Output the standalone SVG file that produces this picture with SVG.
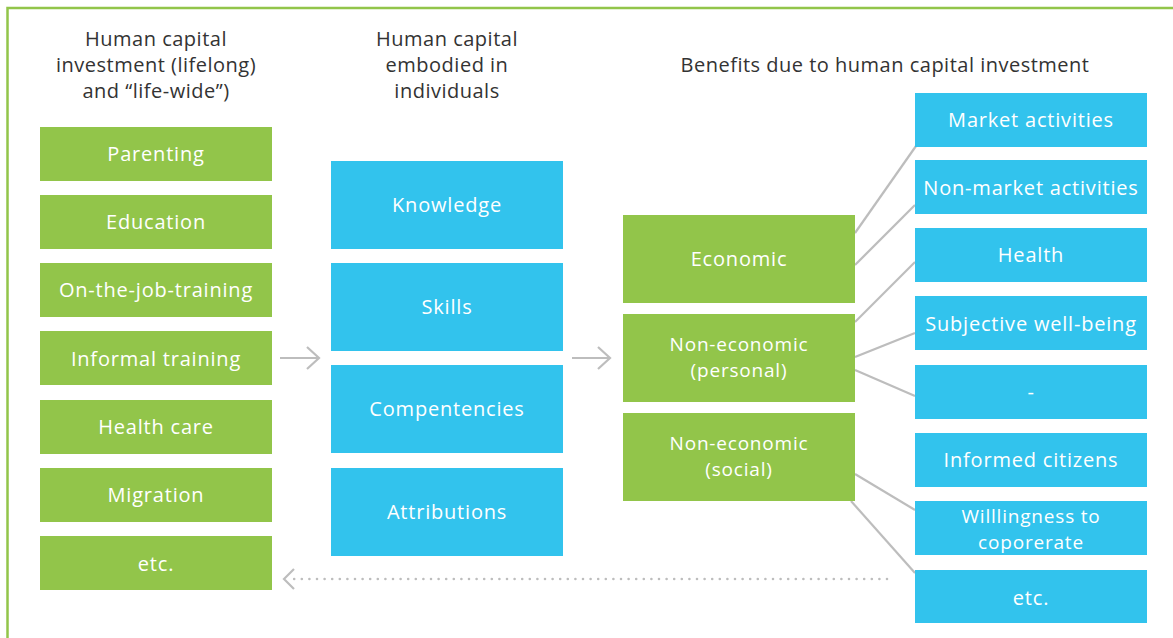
<svg xmlns="http://www.w3.org/2000/svg" width="1173" height="638" viewBox="0 0 1173 638">
<defs>
<style>
.g{fill:#92C54A}
.b{fill:#32C3ED}
.t{font-family:"Open Sans","Liberation Sans",sans-serif;font-size:20px;letter-spacing:0.8px;fill:#ffffff;text-anchor:middle}
.t2{font-size:19px}
.h{font-family:"Open Sans","Liberation Sans",sans-serif;font-size:20px;letter-spacing:0.5px;fill:#333333;text-anchor:middle}
.c{stroke:#BDBDBD;stroke-width:2.2;fill:none}
.d{stroke:#BDBDBD;stroke-width:2.6;fill:none;stroke-dasharray:0 7.6;stroke-linecap:round}
</style>
</defs>
<rect width="1173" height="638" fill="#ffffff"/>
<path d="M7.5 650 V8 H1180" fill="none" stroke="#92C54A" stroke-width="2.5"/>
<g id="headers">
<text class="h" x="156" y="46">Human capital<tspan x="156" dy="26">investment (lifelong)</tspan><tspan x="156" dy="26">and “life-wide”)</tspan></text>
<text class="h" x="447" y="46">Human capital<tspan x="447" dy="26">embodied in</tspan><tspan x="447" dy="26">individuals</tspan></text>
<text class="h" x="885" y="72">Benefits due to human capital investment</text>
</g>
<g id="connectors">
<path class="c" d="M280 358 H319 M307 347 L319 358 L307 369"/>
<path class="c" d="M572 358 H610 M598 347 L610 358 L598 369"/>
<path class="c" d="M855 233 L916 146"/>
<path class="c" d="M855 265 L915 205"/>
<path class="c" d="M855 322 L915 262"/>
<path class="c" d="M855 357 L915 333"/>
<path class="c" d="M855 370 L915 396"/>
<path class="c" d="M855 474 L915 510"/>
<path class="c" d="M851 501 L915 573"/>
<path class="d" d="M887 579 H290"/>
<path class="c" d="M294 569 L284 579 L294 589"/>
</g>
<g id="n-parenting"><rect class="g" x="40" y="127" width="232" height="54"/><text class="t" x="156" y="161">Parenting</text></g>
<g id="n-education"><rect class="g" x="40" y="195" width="232" height="54"/><text class="t" x="156" y="229">Education</text></g>
<g id="n-ojt"><rect class="g" x="40" y="263" width="232" height="54"/><text class="t" x="156" y="297">On-the-job-training</text></g>
<g id="n-informal"><rect class="g" x="40" y="331" width="232" height="54"/><text class="t" x="156" y="366">Informal training</text></g>
<g id="n-health-care"><rect class="g" x="40" y="400" width="232" height="54"/><text class="t" x="156" y="434">Health care</text></g>
<g id="n-migration"><rect class="g" x="40" y="468" width="232" height="54"/><text class="t" x="156" y="502">Migration</text></g>
<g id="n-etc-left"><rect class="g" x="40" y="536" width="232" height="54"/><text class="t" x="156" y="571">etc.</text></g>
<g id="n-knowledge"><rect class="b" x="331" y="161" width="232" height="88"/><text class="t" x="447" y="212">Knowledge</text></g>
<g id="n-skills"><rect class="b" x="331" y="263" width="232" height="88"/><text class="t" x="447" y="314">Skills</text></g>
<g id="n-competencies"><rect class="b" x="331" y="365" width="232" height="88"/><text class="t" x="447" y="416">Compentencies</text></g>
<g id="n-attributions"><rect class="b" x="331" y="468" width="232" height="88"/><text class="t" x="447" y="519">Attributions</text></g>
<g id="n-economic"><rect class="g" x="623" y="215" width="232" height="88"/><text class="t" x="739" y="266">Economic</text></g>
<g id="n-personal"><rect class="g" x="623" y="314" width="232" height="88"/><text class="t t2" x="739" y="351">Non-economic<tspan x="739" dy="26">(personal)</tspan></text></g>
<g id="n-social"><rect class="g" x="623" y="413" width="232" height="88"/><text class="t t2" x="739" y="450">Non-economic<tspan x="739" dy="26">(social)</tspan></text></g>
<g id="n-market"><rect class="b" x="915" y="93" width="232" height="54"/><text class="t" x="1031" y="127">Market activities</text></g>
<g id="n-nonmarket"><rect class="b" x="915" y="160" width="232" height="54"/><text class="t" x="1031" y="195">Non-market activities</text></g>
<g id="n-health"><rect class="b" x="915" y="228" width="232" height="54"/><text class="t" x="1031" y="262">Health</text></g>
<g id="n-subjective"><rect class="b" x="915" y="296" width="232" height="54"/><text class="t" x="1031" y="331">Subjective well-being</text></g>
<g id="n-dash"><rect class="b" x="915" y="365" width="232" height="54"/><text class="t" x="1031" y="399">-</text></g>
<g id="n-informed"><rect class="b" x="915" y="433" width="232" height="54"/><text class="t" x="1031" y="467">Informed citizens</text></g>
<g id="n-willingness"><rect class="b" x="915" y="501" width="232" height="54"/><text class="t t2" x="1031" y="523">Willlingness to<tspan x="1031" dy="26">coporerate</tspan></text></g>
<g id="n-etc-right"><rect class="b" x="915" y="570" width="232" height="53"/><text class="t" x="1031" y="605">etc.</text></g>
</svg>
